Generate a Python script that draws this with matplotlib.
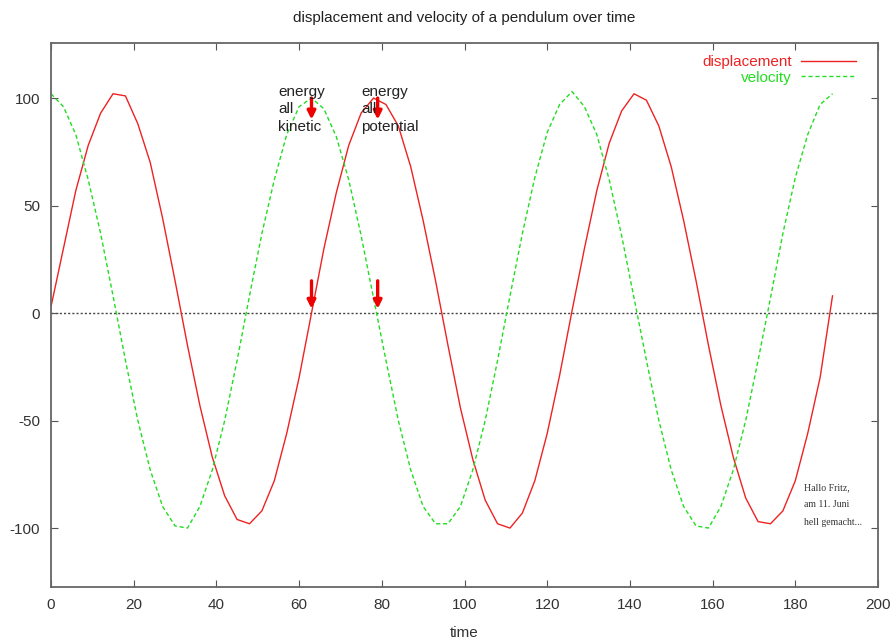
import numpy as np
import matplotlib
matplotlib.use("Agg")
import matplotlib.pyplot as plt

plt.rcParams['font.family'] = ['Liberation Sans', 'DejaVu Sans']
plt.rcParams['axes.unicode_minus'] = False

# sample times (every 3 time units)
time = np.arange(0, 190, 3)

displacement = [
    3, 30, 57, 78, 93, 102, 101, 88, 70, 44, 15, -15, -43, -67, -85, -96, -98, -92, -78, -56, -30,
    0, 30, 56, 78, 93, 100, 97, 87, 68, 43, 15, -15, -44, -68, -87, -98, -100, -93, -78, -56, -29,
    1, 30, 57, 79, 94, 102, 99, 87, 68, 43, 15, -15, -43, -67, -86, -97, -98, -92, -78, -56, -30,
    8,
]
velocity = [
    102, 96, 83, 62, 37, 8, -22, -50, -73, -90, -99, -100, -90, -73, -50, -22, 8, 37, 62, 83, 96,
    100, 95, 82, 62, 36, 7, -22, -50, -73, -90, -98, -98, -90, -73, -50, -22, 8, 37, 63, 84, 97,
    103, 96, 83, 62, 36, 7, -22, -50, -73, -90, -99, -100, -90, -73, -50, -22, 7, 37, 63, 83, 97,
    102,
]

# arrows: (x, y_start, y_end)
arrows = [(63, 100, 90), (79, 100, 90), (63, 15, 2), (79, 15, 2)]
notes = [(55, 106, "energy\nall\nkinetic"), (75, 106, "energy\nall\npotential")]

fig = plt.figure(figsize=(8.95, 6.42), dpi=100)
ax = fig.add_axes([0.057, 0.0857, 0.924, 0.8473])

ax.axhline(0, color='#444444', lw=1, linestyle=(0, (1.5, 1.5)), zorder=1)
ax.plot(time, displacement, color='#ee2222', lw=1, label='displacement')
ax.plot(time, velocity, color='#22dd22', lw=1, linestyle=(0, (3, 2)), label='velocity')

for x, y0, y1 in arrows:
    ax.annotate('', xy=(x, y1), xytext=(x, y0),
                arrowprops=dict(arrowstyle='-|>', color='#ee0000', lw=2.4,
                                mutation_scale=12, shrinkA=0, shrinkB=0))
for x, y, s in notes:
    ax.text(x, y, s, fontsize=11, va='top', ha='left', linespacing=1.3, color='#222222')

ax.text(182, -79, "Hallo Fritz,\nam 11. Juni\nhell gemacht...", fontsize=7,
        family='Liberation Serif', va='top', ha='left', linespacing=2.2, color='#333333')

ax.set_xlim(0, 200)
ax.set_ylim(-127.4, 125.6)
ax.set_xticks(np.arange(0, 201, 20))
ax.set_yticks([-100, -50, 0, 50, 100])
ax.tick_params(direction='in', length=5, top=True, right=True, labelsize=11,
               labelcolor='#333333', color='#555555', pad=8)
for sp in ax.spines.values():
    sp.set_color('#666666')
    sp.set_linewidth(1.3)

ax.set_xlabel('time', fontsize=11, color='#333333', labelpad=10)
ax.set_title('displacement and velocity of a pendulum over time', fontsize=11,
             color='#222222', pad=15)

ax.legend(loc='upper right', bbox_to_anchor=(0.988, 1.0), frameon=False, markerfirst=False,
          labelcolor='linecolor', alignment='right', handlelength=3.6, fontsize=11,
          borderaxespad=0.4, labelspacing=0.1, handletextpad=0.6)

fig.savefig('out.png', dpi=100)
